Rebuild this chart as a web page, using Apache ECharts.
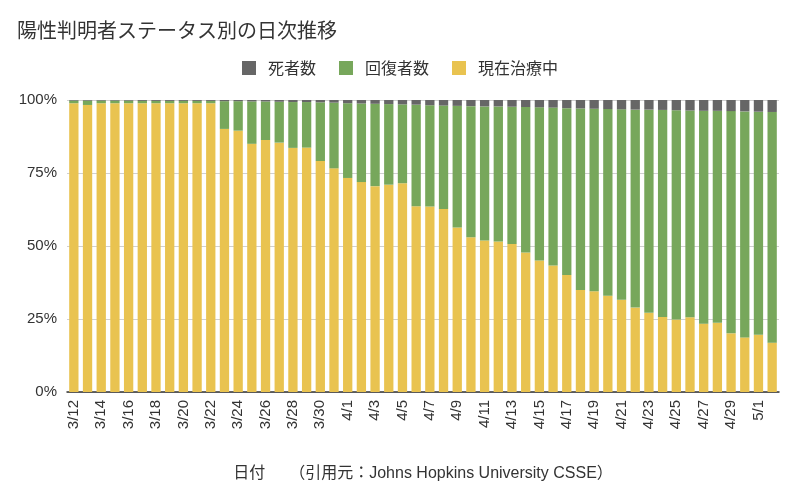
<!DOCTYPE html>
<html><head><meta charset="utf-8">
<script src="https://cdn.jsdelivr.net/npm/echarts@6/dist/echarts.min.js"></script>
<style>html,body{margin:0;padding:0;background:#fff}#c{width:800px;height:492px}</style>
</head><body><div id="c"></div>
<script>
const dates = ["3/12","3/13","3/14","3/15","3/16","3/17","3/18","3/19","3/20","3/21","3/22","3/23","3/24","3/25","3/26","3/27","3/28","3/29","3/30","3/31","4/1","4/2","4/3","4/4","4/5","4/6","4/7","4/8","4/9","4/10","4/11","4/12","4/13","4/14","4/15","4/16","4/17","4/18","4/19","4/20","4/21","4/22","4/23","4/24","4/25","4/26","4/27","4/28","4/29","4/30","5/1","5/2"];
// percent of cases currently in treatment
const active = [98.9,98.3,98.9,98.9,98.9,98.9,98.9,98.9,98.9,98.9,98.9,90.1,89.5,85.0,86.3,85.4,83.6,83.7,79.1,76.6,73.3,71.9,70.5,71.0,71.5,63.6,63.5,62.7,56.3,53.0,51.9,51.5,50.7,47.8,45.0,43.3,40.1,34.9,34.5,33.0,31.6,28.9,27.1,25.7,24.8,25.6,23.4,23.7,20.1,18.7,19.6,16.9];
// percent of deaths
const deaths = [0.2,0.2,0.2,0.2,0.2,0.3,0.3,0.3,0.3,0.3,0.3,0.4,0.4,0.5,0.5,0.6,0.7,0.7,0.8,0.9,1.1,1.2,1.3,1.4,1.5,1.6,1.8,1.9,2.0,2.1,2.2,2.2,2.3,2.4,2.5,2.6,2.8,2.9,3.0,3.1,3.2,3.3,3.3,3.4,3.5,3.6,3.7,3.7,3.8,3.9,4.0,4.1];
// percent recovered = rest of each bar
const recovered = active.map((a, i) => +(100 - a - deaths[i]).toFixed(1));
const yTicks = ["0%","25%","50%","75%","100%"];

const FONT = "'Liberation Sans','Noto Sans CJK JP',sans-serif";
const JP = "'Noto Sans CJK JP',sans-serif";
const chart = echarts.init(document.getElementById('c'), null, {renderer:'canvas'});
chart.setOption({
  animation:false,
  textStyle:{fontFamily:FONT},
  title:{text:"陽性判明者ステータス別の日次推移", left:12, top:15,
    textStyle:{fontSize:20, fontWeight:'normal', color:'#333', fontFamily:JP}},
  legend:{top:55, left:'center', itemWidth:14, itemHeight:14, itemGap:23, icon:'rect',
    data:["死者数","回復者数","現在治療中"],
    textStyle:{fontSize:16, color:'#333', fontFamily:JP, padding:[0,0,0,7]}},
  grid:{left:67, right:21, top:100, bottom:100},
  xAxis:{type:'category', data:dates,
    name:"日付　　（引用元：Johns Hopkins University CSSE）", nameLocation:'middle', nameGap:74,
    nameTextStyle:{fontSize:16, color:'#333', fontFamily:FONT},
    axisLine:{lineStyle:{color:'#333', width:1.5}}, axisTick:{show:false},
    axisLabel:{interval:1, rotate:90, fontSize:15, color:'#333', margin:8}},
  yAxis:{type:'value', min:0, max:100, interval:25,
    axisLabel:{fontSize:15, color:'#333', margin:10, formatter:v => yTicks[v/25]},
    splitLine:{lineStyle:{color:'#d0d0d0'}}, axisLine:{show:false}, axisTick:{show:false}},
  series:[
    {name:"現在治療中", type:'bar', stack:'s', data:active, barCategoryGap:'32%', itemStyle:{color:'#e9c350'}},
    {name:"回復者数", type:'bar', stack:'s', data:recovered, itemStyle:{color:'#77a75b'}},
    {name:"死者数", type:'bar', stack:'s', data:deaths, itemStyle:{color:'#666666'}}
  ]
});
</script></body></html>
